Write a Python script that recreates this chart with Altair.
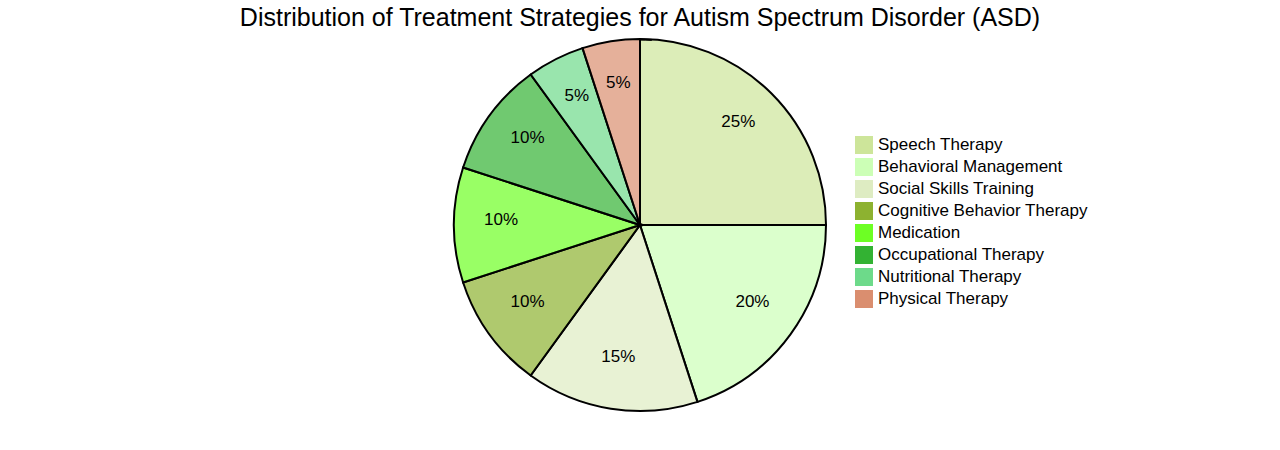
import altair as alt
import pandas as pd

categories = ["Speech Therapy", "Behavioral Management", "Social Skills Training",
              "Cognitive Behavior Therapy", "Medication", "Occupational Therapy",
              "Nutritional Therapy", "Physical Therapy"]
values = [25, 20, 15, 10, 10, 10, 5, 5]
colors = ["#cde59a", "#ccffb6", "#deecc2", "#8db230", "#6dff24", "#33b233", "#6dda8a", "#da8e6f"]

df = pd.DataFrame({
    "category": categories,
    "value": values,
    "order": list(range(len(categories))),
    "label": [f"{v}%" for v in values],
})

theta = alt.Theta("value:Q", stack=True)
color = alt.Color(
    "category:N",
    scale=alt.Scale(domain=categories, range=colors),
    sort=categories,
    legend=alt.Legend(
        title=None, orient="none", legendX=855, legendY=96,
        symbolType="square", symbolSize=324, symbolStrokeWidth=0,
        symbolOpacity=1, labelFontSize=17, labelFont="Liberation Sans",
        labelColor="#000000", labelOffset=5, rowPadding=4, labelLimit=400,
    ),
)

base = alt.Chart(df).encode(theta=theta, order=alt.Order("order:Q"))

arcs = base.mark_arc(outerRadius=186, stroke="black", strokeWidth=2, fillOpacity=0.7).encode(
    color=color
)

ring = alt.Chart(pd.DataFrame({"v": [1]})).mark_arc(
    outerRadius=186, innerRadius=185, fill="black", stroke="black", strokeWidth=1
).encode(theta=alt.Theta("v:Q"))

labels = base.mark_text(radius=139, fontSize=17, font="Liberation Sans",
                        baseline="alphabetic", align="center", color="black").encode(
    text="label:N"
)

chart = alt.layer(arcs, ring, labels).properties(
    width=1280, height=370,
    autosize=alt.AutoSizeParams(type="none"),
    padding={"top": 40, "left": 0, "right": 0, "bottom": 40},
    title=alt.TitleParams(
        "Distribution of Treatment Strategies for Autism Spectrum Disorder (ASD)",
        fontSize=25, font="Liberation Sans", fontWeight="normal", color="black",
        anchor="middle", offset=4,
    ),
).configure_view(stroke=None)

chart.save("out.html", embed_options={"renderer": "svg", "actions": False})
